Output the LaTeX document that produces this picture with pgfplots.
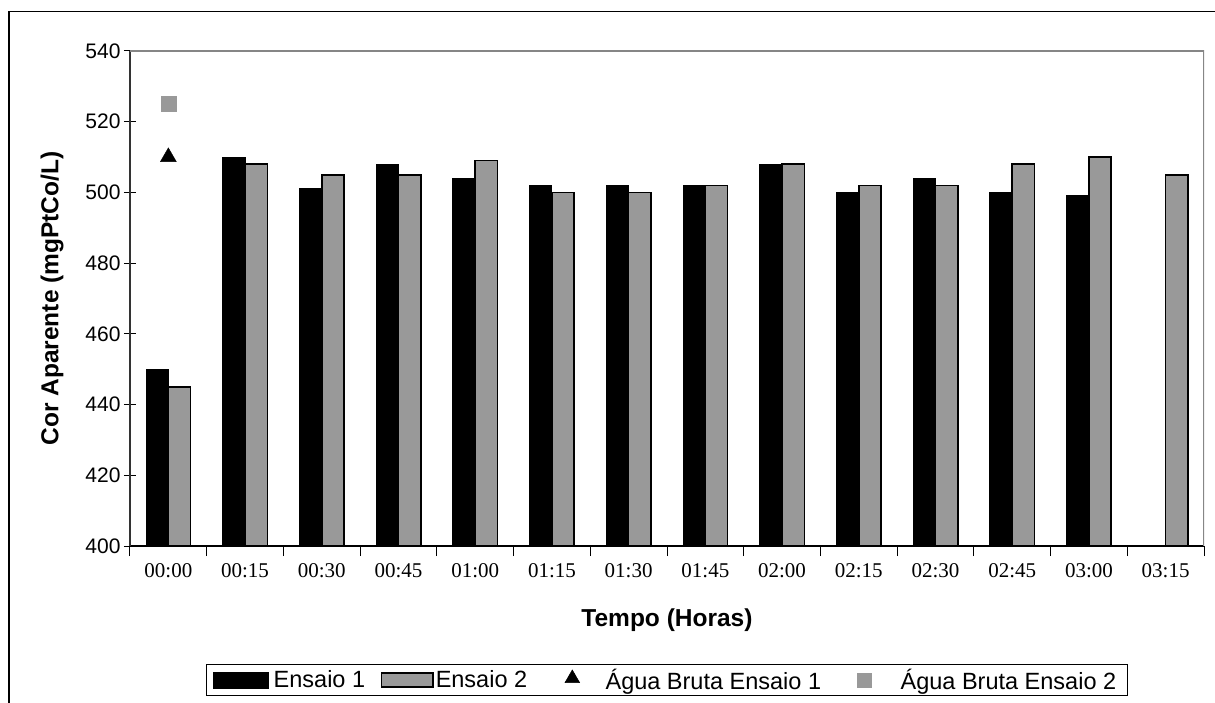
\documentclass[border=0pt]{standalone}
\usepackage{pgfplots}
\pgfplotsset{compat=1.18}
\usepackage{fontspec}
\setmainfont{Liberation Serif}
\newfontfamily\arial{Liberation Sans}
\definecolor{barGray}{HTML}{999999}
\definecolor{frameGray}{HTML}{868686}

\begin{document}
\begin{tikzpicture}
\useasboundingbox (-130pt,-156pt) rectangle (1085pt,546pt);
% outer chart frame
\draw[line width=1.2pt] (-121pt,-200pt) -- (-121pt,534.5pt) -- (1200pt,534.5pt);
\begin{axis}[
  at={(0pt,0pt)}, anchor=south west,
  scale only axis, width=1074pt, height=495pt,
  xmin=-0.5, xmax=13.5, ymin=400, ymax=540,
  axis x line*=bottom, axis y line*=left,
  x axis line style={-, line width=1.5pt, black},
  y axis line style={-, line width=1.5pt, black!80},
  tick align=center,
  ytick={400,420,...,540},
  major tick length=12pt,
  ytick style={black, line width=1pt},
  xtick={0,...,13},
  xticklabels={00:00,00:15,00:30,00:45,01:00,01:15,01:30,01:45,02:00,02:15,02:30,02:45,03:00,03:15},
  major x tick style={draw=none},
  minor xtick={-0.5,0.5,...,13.5},
  minor tick length=10pt,
  minor x tick style={black, line width=1pt, yshift=-5pt},
  xticklabel style={font=\fontsize{21}{25}\selectfont, yshift=-8pt},
  yticklabel style={font=\arial\fontsize{21}{25}\selectfont},
  /pgf/number format/assume math mode=true,
  xlabel={Tempo (Horas)},
  ylabel={Cor Aparente (mgPtCo/L)},
  label style={font=\arial\bfseries\fontsize{24.5}{29}\selectfont},
  xlabel style={at={([yshift=-74pt]rel axis cs:0.5,0)}, anchor=center},
  ylabel style={at={([xshift=-78pt]rel axis cs:0,0.5)}, anchor=center},
  legend columns=4,
  legend cell align=left,
  legend style={at={([xshift=75.7pt, yshift=-118pt]rel axis cs:0,0)}, anchor=north west,
    draw=black, line width=1pt,
    font=\arial\fontsize{23.5}{28}\selectfont,
    inner xsep=0pt, inner ysep=3.5pt,
    nodes={inner xsep=1.5pt, inner ysep=1pt},
    /tikz/every even column/.append style={column sep=0pt}},
]
\addplot[ybar, bar width=22.3pt, bar shift=-11.15pt, fill=black, draw=black, line width=1pt,
  legend image code/.code={\path[draw=none, fill=none] (0pt,-8pt) rectangle (66pt,8pt);
    \draw[fill=black,draw=black,line width=0.5pt] (7.5pt,-8pt) rectangle (62.5pt,8pt);}]
  coordinates {(0,450) (1,510) (2,501) (3,508) (4,504) (5,502) (6,502) (7,502) (8,508) (9,500) (10,504) (11,500) (12,499)};
\addlegendentry{Ensaio 1}
\addplot[ybar, bar width=22.3pt, bar shift=11.15pt, fill=barGray, draw=black, line width=1.5pt,
  legend image code/.code={\path[draw=none, fill=none] (0pt,-8pt) rectangle (67.6pt,8pt);
    \draw[fill=barGray,draw=black,line width=1.8pt] (14.8pt,-7pt) rectangle (66pt,7pt);}]
  coordinates {(0,445) (1,508) (2,505) (3,505) (4,509) (5,500) (6,500) (7,502) (8,508) (9,502) (10,502) (11,508) (12,510) (13,505)};
\addlegendentry{Ensaio 2}
\addplot[only marks, mark=triangle*, mark size=9.2pt, black,
  legend image code/.code={\path[draw=none, fill=none] (0pt,-8pt) rectangle (75.4pt,8pt);
    \draw[black, line width=0.5pt, mark=triangle*, mark size=8.5pt] plot coordinates {(43.6pt,1.5pt)};}]
  coordinates {(0,510)};
\addlegendentry{Água Bruta Ensaio 1}
\addplot[only marks, mark=square*, mark size=7.5pt, color=barGray, mark options={draw=barGray, fill=barGray},
  legend image code/.code={\path[draw=none, fill=none] (0pt,-8pt) rectangle (76.5pt,8pt);
    \draw[barGray, line width=0.5pt, mark=square*, mark size=7pt] plot coordinates {(42pt,0pt)};}]
  coordinates {(0,525)};
\addlegendentry{Água Bruta Ensaio 2\kern10pt}
\draw[frameGray, line width=1.5pt] (rel axis cs:0,1) -- (rel axis cs:1,1) -- (rel axis cs:1,0);
\end{axis}
\end{tikzpicture}
\end{document}
